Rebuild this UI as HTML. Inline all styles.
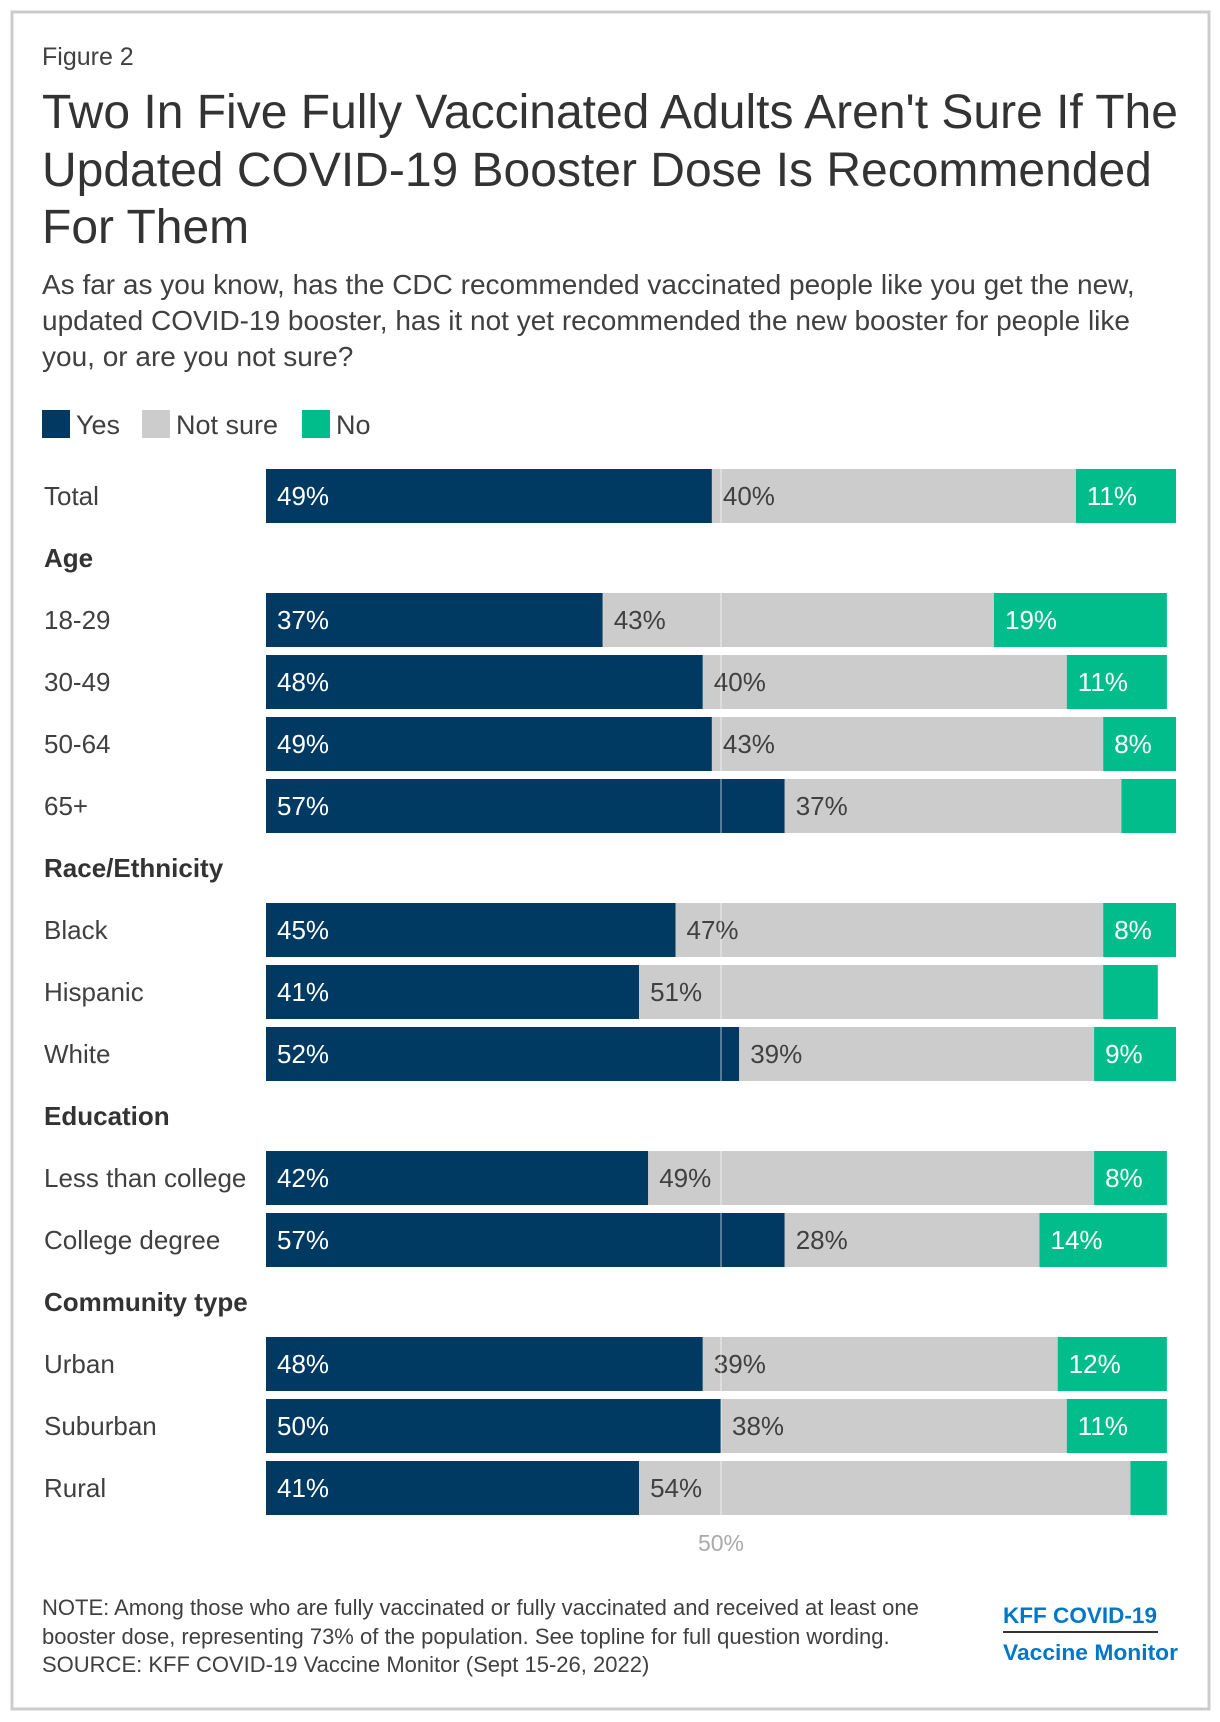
<!DOCTYPE html>
<html><head><meta charset="utf-8"><style>
body{margin:0;background:#fff;font-family:"Liberation Sans",Arial,sans-serif;}
#wrap{position:relative;width:1220px;height:1722px;overflow:hidden;}
</style></head><body>
<div id="wrap">
<svg id="chart" width="1220" height="1722" xmlns="http://www.w3.org/2000/svg" font-family="Liberation Sans, Arial, sans-serif">
<rect x="12" y="12" width="1197" height="1697" fill="none" stroke="#cccccc" stroke-width="3"/>
<text x="42" y="65" font-size="25" fill="#404040">Figure 2</text>
<g font-size="48" fill="#333">
<text x="42" y="128">Two In Five Fully Vaccinated Adults Aren't Sure If The</text>
<text x="42" y="186">Updated COVID-19 Booster Dose Is Recommended</text>
<text x="42" y="243">For Them</text>
</g>
<g font-size="28" fill="#404040">
<text x="42" y="294">As far as you know, has the CDC recommended vaccinated people like you get the new,</text>
<text x="42" y="330">updated COVID-19 booster, has it not yet recommended the new booster for people like</text>
<text x="42" y="366">you, or are you not sure?</text>
</g>
<g font-size="27" fill="#404040">
<rect x="42" y="410" width="28" height="28" fill="#003a63"/>
<text x="76" y="434">Yes</text>
<rect x="142" y="410" width="28" height="28" fill="#cccccc"/>
<text x="176" y="434">Not sure</text>
<rect x="302" y="410" width="28" height="28" fill="#00bd8b"/>
<text x="336" y="434">No</text>
</g>
<g id="bars"></g>
<g font-size="22" fill="#404040">
<text x="42" y="1615">NOTE: Among those who are fully vaccinated or fully vaccinated and received at least one</text>
<text x="42" y="1644">booster dose, representing 73% of the population. See topline for full question wording.</text>
<text x="42" y="1672">SOURCE: KFF COVID-19 Vaccine Monitor (Sept 15-26, 2022)</text>
</g>
<g font-weight="bold" fill="#0077c8" font-size="22">
<text x="1003" y="1623" textLength="154" lengthAdjust="spacingAndGlyphs">KFF COVID-19</text>
<rect x="1003" y="1631" width="155" height="2" fill="#333"/>
<text x="1003" y="1660" textLength="175" lengthAdjust="spacingAndGlyphs">Vaccine Monitor</text>
</g>
</svg>
</div>
<script>
const labels=["Total",null,"18-29","30-49","50-64","65+",null,"Black","Hispanic","White",null,"Less than college","College degree",null,"Urban","Suburban","Rural"];
const headers=[null,"Age",null,null,null,null,"Race/Ethnicity",null,null,null,"Education",null,null,"Community type",null,null,null];
const yesVals=[49,null,37,48,49,57,null,45,41,52,null,42,57,null,48,50,41];
const notSureVals=[40,null,43,40,43,37,null,47,51,39,null,49,28,null,39,38,54];
const noVals=[11,null,19,11,8,6,null,8,6,9,null,8,14,null,12,11,4];
const noShown=[true,null,true,true,true,false,null,true,false,true,null,true,true,null,true,true,false];
const ticks=[50];

const NS="http://www.w3.org/2000/svg";
const g=document.getElementById('bars');
const x0=266, W=910, rowStep=62, y0=496, bh=54;
const xs=v=>x0+v/100*W;
const ys=i=>y0+i*rowStep;
function mk(tag,attrs){const e=document.createElementNS(NS,tag);for(const k in attrs)e.setAttribute(k,attrs[k]);g.appendChild(e);return e;}
const series=[[yesVals,"#003a63","#fff","yes"],[notSureVals,"#cccccc","#404040","not-sure"],[noVals,"#00bd8b","#fff","no"]];
for(let i=0;i<labels.length;i++){
  const cy=ys(i);
  if(headers[i]){
    const t=mk('text',{x:44,y:cy+9,'font-size':26,'font-weight':'bold',fill:'#333'});
    t.textContent=headers[i];
    
    
    continue;
  }
  const l=mk('text',{x:44,y:cy+9,'font-size':26,fill:'#404040'});
  l.textContent=labels[i];
  
  
  let acc=0;
  series.forEach(([arr,col,tc,nm],si)=>{
    const v=arr[i];
    const r=mk('rect',{x:xs(acc),y:cy-bh/2,width:xs(acc+v)-xs(acc),height:bh,fill:col});
    
    
    if(!(si===2&&!noShown[i])){
      const t=mk('text',{x:xs(acc)+11,y:cy+9,'font-size':26,fill:tc});
      t.textContent=v+'%';
      
      
    }
    acc+=v;
  });
}
ticks.forEach(tk=>{
  const ln=mk('line',{x1:xs(tk),x2:xs(tk),y1:ys(0)-bh/2,y2:ys(labels.length-1)+bh/2,stroke:'#ffffff','stroke-opacity':0.45,'stroke-width':1.5});
  
  
  const t=mk('text',{x:xs(tk),y:1551,'font-size':23,fill:'#aaaaaa','text-anchor':'middle'});
  t.textContent=tk+'%';
  
  
});
</script>
</body></html>
